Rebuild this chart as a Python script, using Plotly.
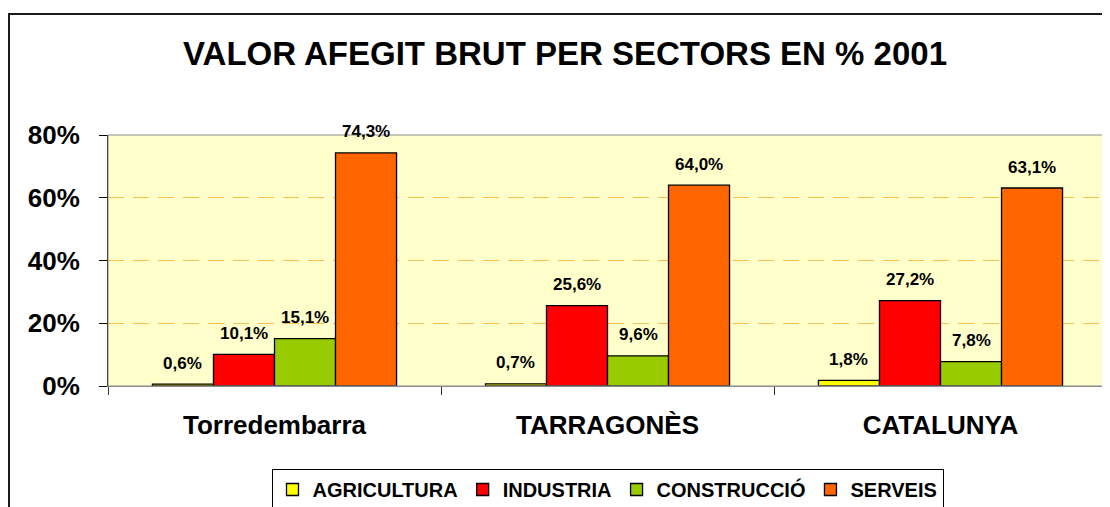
import plotly.graph_objects as go

# ---- data ----
categories = ["Torredembarra", "TARRAGONÈS", "CATALUNYA"]
series_names = ["AGRICULTURA", "INDUSTRIA", "CONSTRUCCIÓ", "SERVEIS"]
agricultura = [0.6, 0.7, 1.8]
industria = [10.1, 25.6, 27.2]
construccio = [15.1, 9.6, 7.8]
serveis = [74.3, 64.0, 63.1]
y_ticks = [0, 20, 40, 60, 80]
title_text = "VALOR AFEGIT BRUT PER SECTORS EN % 2001"

series_values = [agricultura, industria, construccio, serveis]
colors = ["#FFFF00", "#FF0000", "#99CC00", "#FF6600"]

# the page body adds an 8px offset, so the figure is sized to the visible area
W, H = 1102, 499
ML, MR, MT, MB = 100, 3, 127, 121
plot_w = W - ML - MR
plot_h = H - MT - MB
FONT = "Liberation Sans, Arial, sans-serif"

fig = go.Figure()
for name, vals, col in zip(series_names, series_values, colors):
    fig.add_trace(go.Bar(
        name=name, x=categories, y=vals,
        marker=dict(color=col, line=dict(color="#000000", width=1.3)),
        hoverinfo="skip",
    ))

# data labels above each bar
bargap = 0.267
bar_w = plot_w / len(categories) * (1 - bargap) / len(series_names)
annotations = []
for i, vals in enumerate(series_values):
    shift = (i - (len(series_names) - 1) / 2) * bar_w
    for cat, v in zip(categories, vals):
        annotations.append(dict(
            x=cat, y=v, xref="x", yref="y",
            text=f"{v:.1f}%".replace(".", ","),
            showarrow=False, xshift=shift, yshift=21, yanchor="middle",
            font=dict(family=FONT, size=17, color="#000000", weight="bold"),
        ))

shapes = [
    # plot area border
    dict(type="rect", xref="paper", yref="paper", x0=0, x1=1, y0=0, y1=1,
         line=dict(color="#8C8C8C", width=1), layer="above"),
    # outer chart border
    dict(type="rect", xref="paper", yref="paper",
         x0=(1 - ML) / plot_w, x1=(W + 10 - ML) / plot_w,
         y0=(plot_h + MT - 6) / plot_h, y1=-(MB + 20) / plot_h,
         line=dict(color="#1a1a1a", width=2), layer="above"),
]

fig.update_layout(
    width=W, height=H,
    margin=dict(l=ML, r=MR, t=MT, b=MB, pad=0, autoexpand=False),
    paper_bgcolor="#FFFFFF",
    plot_bgcolor="#FFFFCC",
    barmode="group", bargap=bargap, bargroupgap=0,
    title=dict(text=title_text, x=557 / W, xanchor="center", xref="container",
               y=1 - 45 / H, yanchor="middle", yref="container", automargin=False,
               font=dict(family=FONT, size=33, color="#000000", weight="bold")),
    font=dict(family=FONT, color="#000000"),
    showlegend=True,
    legend=dict(orientation="h", x=0.5, xanchor="center", y=-(461 - MT - plot_h) / plot_h,
                yanchor="top", bordercolor="#000000", borderwidth=1,
                bgcolor="#FFFFFF", itemwidth=30, traceorder="normal",
                font=dict(family=FONT, size=20, color="#000000", weight="bold")),
    annotations=annotations,
    shapes=shapes,
)

fig.update_xaxes(
    type="category", showgrid=False, showline=True, linecolor="#8C8C8C", linewidth=1,
    ticks="outside", tickson="boundaries", ticklen=8, tickcolor="#333333",
    ticklabelstandoff=16, automargin=False,
    tickfont=dict(family=FONT, size=26, color="#000000", weight="bold"),
    fixedrange=True,
)
fig.update_yaxes(
    range=[0, 80], tickvals=y_ticks, ticktext=[f"{t}%" for t in y_ticks],
    showgrid=True, gridcolor="#F9BE52", griddash="16px,9px", gridwidth=1.3,
    zeroline=False, showline=True, linecolor="#000000", linewidth=1,
    ticks="outside", ticklen=8, tickcolor="#000000", ticklabelstandoff=14,
    automargin=False,
    tickfont=dict(family=FONT, size=26, color="#000000", weight="bold"),
    fixedrange=True,
)

fig.write_html("out.html")
